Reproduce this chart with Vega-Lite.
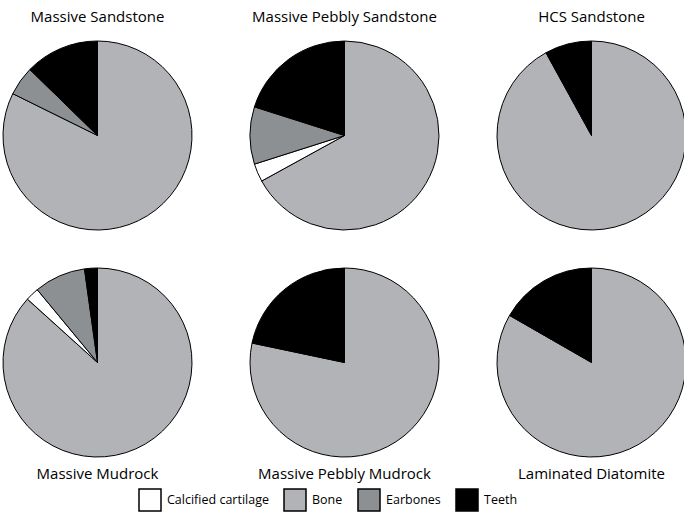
{
  "$schema": "https://vega.github.io/schema/vega-lite/v6.json",
  "padding": {"left": 1, "top": 10, "right": 0, "bottom": 0},
  "background": "white",
  "data": {"values": [
    {"facies": "Massive Sandstone", "part": "Bone", "pct": 82.3},
    {"facies": "Massive Sandstone", "part": "Earbones", "pct": 5.0},
    {"facies": "Massive Sandstone", "part": "Teeth", "pct": 12.7},
    {"facies": "Massive Pebbly Sandstone", "part": "Bone", "pct": 67.0},
    {"facies": "Massive Pebbly Sandstone", "part": "Calcified cartilage", "pct": 3.1},
    {"facies": "Massive Pebbly Sandstone", "part": "Earbones", "pct": 9.8},
    {"facies": "Massive Pebbly Sandstone", "part": "Teeth", "pct": 20.1},
    {"facies": "HCS Sandstone", "part": "Bone", "pct": 92.0},
    {"facies": "HCS Sandstone", "part": "Teeth", "pct": 8.0},
    {"facies": "Massive Mudrock", "part": "Bone", "pct": 86.7},
    {"facies": "Massive Mudrock", "part": "Calcified cartilage", "pct": 2.3},
    {"facies": "Massive Mudrock", "part": "Earbones", "pct": 8.8},
    {"facies": "Massive Mudrock", "part": "Teeth", "pct": 2.2},
    {"facies": "Massive Pebbly Mudrock", "part": "Bone", "pct": 78.3},
    {"facies": "Massive Pebbly Mudrock", "part": "Teeth", "pct": 21.7},
    {"facies": "Laminated Diatomite", "part": "Bone", "pct": 83.3},
    {"facies": "Laminated Diatomite", "part": "Teeth", "pct": 16.7}
  ]},
  "config": {
    "view": {"stroke": null},
    "font": "Open Sans",
    "title": {"fontSize": 15, "fontWeight": "normal", "font": "Open Sans", "color": "black", "anchor": "middle"},
    "legend": {"labelFont": "Open Sans", "labelFontSize": 12.5, "labelColor": "black"}
  },
  "resolve": {"scale": {"color": "shared"}},
  "spacing": 34,
  "vconcat": [
    {
      "spacing": 54,
      "hconcat": [
        {"title": {"text": "Massive Sandstone", "offset": 14}, "transform": [{"filter": "datum.facies == 'Massive Sandstone'"}], "width": 189, "height": 189,
         "mark": {"type": "arc", "stroke": "black", "strokeWidth": 1},
         "encoding": {"theta": {"field": "pct", "type": "quantitative", "stack": true}, "order": {"field": "part", "sort": "ascending"},
           "color": {"field": "part", "type": "nominal", "scale": {"domain": ["Calcified cartilage", "Bone", "Earbones", "Teeth"], "range": ["#ffffff", "#b1b3b6", "#8c9093", "#000000"]},
             "legend": {"title": null, "orient": "none", "legendX": 135, "legendY": 447, "direction": "horizontal", "symbolType": "square", "symbolSize": 484, "symbolStrokeColor": "black", "symbolStrokeWidth": 1.5, "labelOffset": 5, "columnPadding": 12}}}},
        {"title": {"text": "Massive Pebbly Sandstone", "offset": 14}, "transform": [{"filter": "datum.facies == 'Massive Pebbly Sandstone'"}], "width": 189, "height": 189,
         "mark": {"type": "arc", "stroke": "black", "strokeWidth": 1},
         "encoding": {"theta": {"field": "pct", "type": "quantitative", "stack": true}, "order": {"field": "part", "sort": "ascending"},
           "color": {"field": "part", "type": "nominal"}}},
        {"title": {"text": "HCS Sandstone", "offset": 14}, "transform": [{"filter": "datum.facies == 'HCS Sandstone'"}], "width": 189, "height": 189,
         "mark": {"type": "arc", "stroke": "black", "strokeWidth": 1},
         "encoding": {"theta": {"field": "pct", "type": "quantitative", "stack": true}, "order": {"field": "part", "sort": "ascending"},
           "color": {"field": "part", "type": "nominal"}}}
      ]
    },
    {
      "spacing": 54,
      "hconcat": [
        {"title": {"text": "Massive Mudrock", "orient": "bottom", "offset": 8}, "transform": [{"filter": "datum.facies == 'Massive Mudrock'"}], "width": 189, "height": 189,
         "mark": {"type": "arc", "stroke": "black", "strokeWidth": 1},
         "encoding": {"theta": {"field": "pct", "type": "quantitative", "stack": true}, "order": {"field": "part", "sort": "ascending"},
           "color": {"field": "part", "type": "nominal"}}},
        {"title": {"text": "Massive Pebbly Mudrock", "orient": "bottom", "offset": 8}, "transform": [{"filter": "datum.facies == 'Massive Pebbly Mudrock'"}], "width": 189, "height": 189,
         "mark": {"type": "arc", "stroke": "black", "strokeWidth": 1},
         "encoding": {"theta": {"field": "pct", "type": "quantitative", "stack": true}, "order": {"field": "part", "sort": "ascending"},
           "color": {"field": "part", "type": "nominal"}}},
        {"title": {"text": "Laminated Diatomite", "orient": "bottom", "offset": 8}, "transform": [{"filter": "datum.facies == 'Laminated Diatomite'"}], "width": 189, "height": 189,
         "mark": {"type": "arc", "stroke": "black", "strokeWidth": 1},
         "encoding": {"theta": {"field": "pct", "type": "quantitative", "stack": true}, "order": {"field": "part", "sort": "ascending"},
           "color": {"field": "part", "type": "nominal"}}}
      ]
    }
  ]
}
